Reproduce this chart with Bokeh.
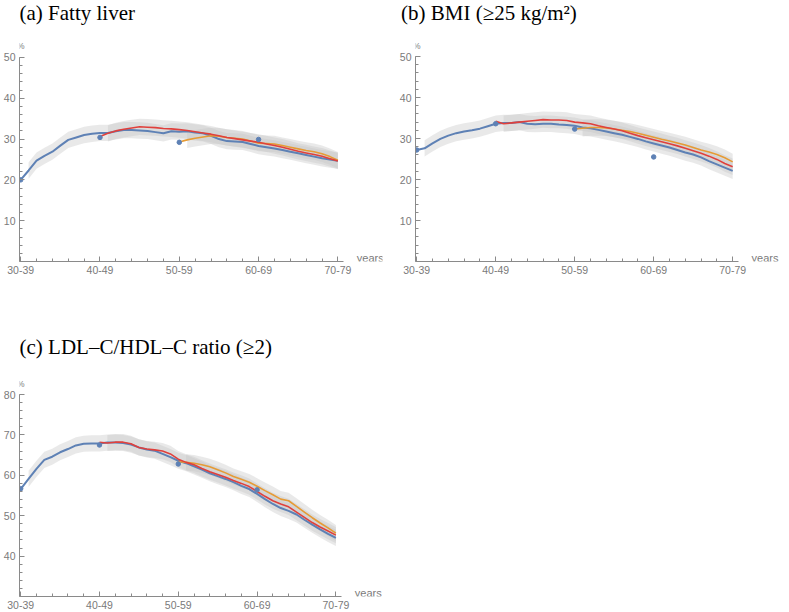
from bokeh.plotting import figure
from bokeh.models import Range1d, FixedTicker, Label
from bokeh.layouts import column, row
from bokeh.embed import file_html
from bokeh.resources import INLINE

# ---------------- data ----------------
AGE_TICKS = [30, 40, 50, 60, 70]
AGE_LABELS = ["30-39", "40-49", "50-59", "60-69", "70-79"]

AGE_BLUE = list(range(30, 71))
AGE_RED = list(range(40, 71))
AGE_ORANGE = list(range(50, 71))
AGE_DOTS = [30, 40, 50, 60]

TITLES = ["(a) Fatty liver", "(b) BMI (\u226525 kg/m\u00b2)",
          "(c) LDL\u2013C/HDL\u2013C ratio (\u22652)"]

# (a) Fatty liver
FL_BLUE = [20.0, 22.3, 24.7, 25.9, 26.9, 28.4, 29.8, 30.4, 31.0, 31.3,
           31.5, 31.5, 31.9, 32.2, 32.2, 32.1, 32.0, 31.7, 31.4, 31.9,
           31.8, 31.9, 31.6, 31.4, 30.8, 30.0, 29.5, 29.4, 29.3, 28.8,
           28.3, 28.0, 27.7, 27.3, 26.9, 26.5, 26.1, 25.7, 25.3, 25.0,
           24.7]
FL_RED = [30.6, 31.4, 32.0, 32.4, 32.7, 33.0, 32.9, 32.8, 32.6, 32.5,
          32.3, 32.1, 31.8, 31.5, 31.2, 30.8, 30.4, 30.1, 29.8, 29.5,
          29.2, 28.8, 28.4, 28.0, 27.5, 27.0, 26.6, 26.2, 25.8, 25.2,
          24.6]
FL_ORANGE = [29.3, 29.8, 30.2, 30.5, 30.8, 30.7, 30.4, 30.2, 30.0, 29.5,
             29.0, 28.9, 28.8, 28.4, 28.0, 27.6, 27.2, 26.9, 26.4, 25.7,
             24.8]
FL_DOTS = [20.0, 30.4, 29.2, 29.9]

# (b) BMI
BMI_BLUE = [27.2, 27.6, 28.8, 29.9, 30.7, 31.3, 31.7, 32.0, 32.4, 33.0,
            33.6, 33.8, 33.8, 34.0, 33.6, 33.5, 33.6, 33.6, 33.4, 33.3,
            33.1, 32.7, 32.5, 32.1, 31.7, 31.3, 30.9, 30.4, 29.9, 29.3,
            28.8, 28.3, 27.8, 27.2, 26.6, 26.1, 25.4, 24.5, 23.7, 22.9,
            22.1]
BMI_RED = [34.2, 33.6, 33.8, 34.0, 34.2, 34.4, 34.6, 34.5, 34.5, 34.4,
           34.0, 33.8, 33.6, 33.1, 32.7, 32.3, 31.9, 31.3, 30.7, 30.2,
           29.7, 29.2, 28.7, 28.2, 27.6, 27.0, 26.4, 25.7, 24.9, 23.9,
           23.1]
BMI_ORANGE = [32.3, 32.5, 32.7, 32.7, 32.6, 32.3, 32.0, 31.7, 31.3, 30.8,
              30.3, 29.8, 29.4, 28.9, 28.4, 27.8, 27.2, 26.7, 26.1, 25.3,
              24.3]
BMI_DOTS = [27.2, 33.6, 32.3, 25.5]

# (c) LDL-C/HDL-C ratio
LDL_BLUE = [56.6, 59.1, 61.6, 63.8, 64.6, 65.7, 66.5, 67.4, 67.8, 67.9,
            67.9, 68.1, 68.1, 68.0, 67.6, 66.9, 66.4, 66.1, 65.3, 64.5,
            63.6, 63.0, 62.2, 61.4, 60.5, 59.8, 59.1, 58.3, 57.4, 56.6,
            55.4, 54.1, 52.9, 51.9, 51.2, 50.3, 49.0, 47.8, 46.6, 45.5,
            44.5]
LDL_RED = [68.2, 68.0, 68.2, 68.2, 67.8, 66.9, 66.5, 66.3, 66.0, 65.3,
           64.0, 63.2, 62.6, 61.7, 60.9, 60.2, 59.5, 58.7, 58.0, 57.2,
           56.0, 54.8, 53.7, 52.9, 52.2, 50.9, 49.6, 48.3, 47.2, 46.2,
           45.2]
LDL_ORANGE = [63.4, 63.2, 63.0, 62.6, 62.1, 61.4, 60.6, 59.7, 59.0, 58.3,
              57.3, 56.2, 55.2, 54.1, 53.7, 52.3, 50.9, 49.5, 48.2, 47.0,
              45.7]
LDL_DOTS = [56.7, 67.5, 62.8, 56.4]

BAND_HALF = 2.0  # half-width of the grey uncertainty bands (in %)

# ---------------- style ----------------
BLUE = "#5E81B5"
ORANGE = "#E69B35"
RED = "#E0403C"
BAND = "#c4c4c4"
AXIS = "#8a8a8a"
LABEL = "#7a7a7a"
TITLE_FONT = "Liberation Serif"

X0 = 29.85     # left edge of frame (y axis position)
X_END = 70.75  # end of drawn x axis line


def title_strip(width, height, items):
    """A bare strip (no axes) that holds the panel titles as text."""
    t = figure(width=width, height=height, x_range=Range1d(0, width),
               y_range=Range1d(0, height), x_axis_location=None,
               y_axis_location=None, toolbar_location=None,
               output_backend="svg", min_border=0)
    t.outline_line_color = None
    t.xgrid.visible = False
    t.ygrid.visible = False
    for text, x, y in items:
        t.add_layout(Label(x=x, y=y, text=text, text_font=TITLE_FONT,
                           text_font_size="21px", text_color="black",
                           text_align="left", text_baseline="alphabetic"))
    return t


def make_panel(blue, red, orange, dots, ymin, ymax, width, height,
               b_left, b_right, b_top, b_bottom, px_year, px_unit):
    x1 = X0 + (width - b_left - b_right) / px_year
    y1 = ymin + (height - b_top - b_bottom) / px_unit
    p = figure(width=width, height=height,
               x_range=Range1d(X0, x1), y_range=Range1d(ymin, y1),
               output_backend="svg", toolbar_location=None,
               min_border_left=b_left, min_border_right=b_right,
               min_border_top=b_top, min_border_bottom=b_bottom)
    p.outline_line_color = None
    p.xgrid.visible = False
    p.ygrid.visible = False

    # bands
    for ages, vals in ((AGE_BLUE, blue), (AGE_RED, red), (AGE_ORANGE, orange)):
        xs = ages[1:]
        v = vals[1:]
        p.varea(x=xs, y1=[a - BAND_HALF for a in v], y2=[a + BAND_HALF for a in v],
                fill_color=BAND, fill_alpha=0.38)

    p.line(AGE_BLUE, blue, line_color=BLUE, line_width=2)
    p.line(AGE_ORANGE, orange, line_color=ORANGE, line_width=1.6)
    p.line(AGE_RED, red, line_color=RED, line_width=1.6)
    p.scatter(AGE_DOTS, dots, size=4.5, fill_color=BLUE, line_color=BLUE)

    # axes
    xa = p.xaxis[0]
    xa.ticker = FixedTicker(ticks=AGE_TICKS, minor_ticks=list(range(30, 71, 2)))
    xa.major_label_overrides = {t: l for t, l in zip(AGE_TICKS, AGE_LABELS)}
    xa.bounds = (X0, X_END)
    ya = p.yaxis[0]
    ya.ticker = FixedTicker(ticks=list(range(ymin + 10, ymax + 1, 10)),
                            minor_ticks=list(range(ymin, ymax + 1, 2)))
    ya.bounds = (ymin, ymax)
    for ax in (xa, ya):
        ax.axis_line_color = AXIS
        ax.major_tick_line_color = AXIS
        ax.minor_tick_line_color = AXIS
        ax.major_tick_in = 5
        ax.major_tick_out = 0
        ax.minor_tick_in = 3
        ax.minor_tick_out = 0
        ax.major_label_text_color = LABEL
        ax.major_label_text_font = "Liberation Sans"
        ax.major_label_text_font_size = "10.5px"
    xa.major_label_standoff = 4
    ya.major_label_standoff = 4

    p.add_layout(Label(x=30, y=ymax, text="%", text_font_size="8.5px",
                       text_color=LABEL, text_align="center",
                       text_baseline="bottom", y_offset=6,
                       text_font="Liberation Sans"))
    p.add_layout(Label(x=X_END, y=ymin, text="years", text_font_size="11px",
                       text_color=LABEL, text_align="left",
                       text_baseline="middle", x_offset=13, y_offset=4,
                       text_font="Liberation Sans"))
    return p


top_titles = title_strip(789, 26, [(TITLES[0], 0, 14), (TITLES[1], 395, 14)])
pa = make_panel(FL_BLUE, FL_RED, FL_ORANGE, FL_DOTS,
                0, 50, 390, 274, 19, 8, 15, 38, 7.93, 4.1)
pb = make_panel(BMI_BLUE, BMI_RED, BMI_ORANGE, BMI_DOTS,
                0, 50, 399, 274, 25, 8, 15, 39, 7.9, 4.1)
mid_title = title_strip(390, 60, [(TITLES[2], 0, 14)])
pc = make_panel(LDL_BLUE, LDL_RED, LDL_ORANGE, LDL_DOTS,
                30, 80, 390, 251, 19, 8, 20, 15, 7.88, 4.04)

layout = column(top_titles, row(pa, pb), mid_title, pc)
open("out.html", "w").write(file_html(layout, INLINE))
